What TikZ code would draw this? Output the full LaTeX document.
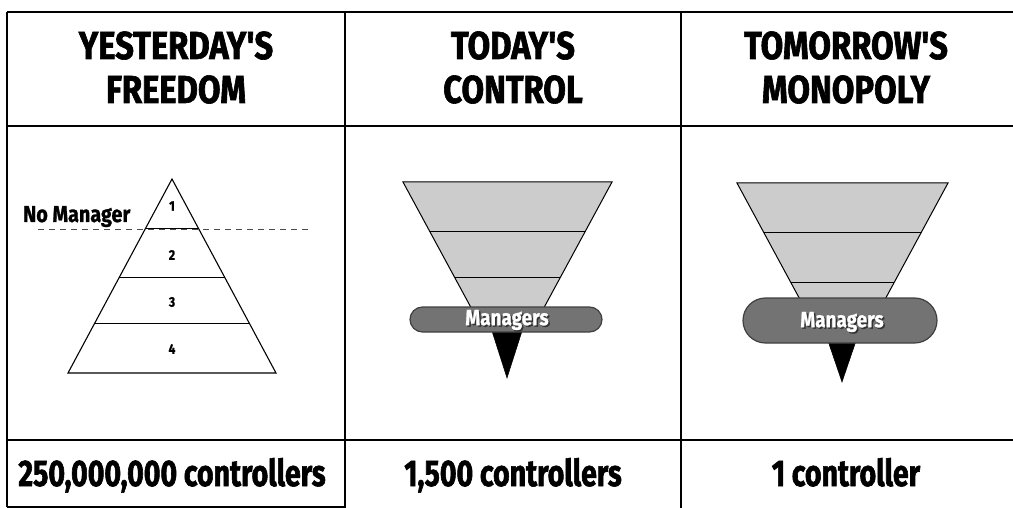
\documentclass[tikz,border=0pt]{standalone}
\usepackage{fontspec}
\setmainfont{Fira Sans}
\newfontfamily\headfont{Fira Sans}[FakeStretch=0.84,FakeBold=1.6]
\newfontfamily\botfont{Fira Sans}[FakeStretch=0.77,FakeBold=1.6]
\newfontfamily\smfont{Fira Sans}[FakeStretch=0.86,FakeBold=1.0]
\usetikzlibrary{calc}
\definecolor{funnelfill}{gray}{0.8}
\definecolor{pillfill}{gray}{0.45}
\definecolor{pilledge}{gray}{0.25}
\tikzset{
  frame/.style={line width=1.8pt, black},
  divider/.style={line width=1.1pt, black},
  headtext/.style={anchor=base, inner sep=0pt, font=\headfont\bfseries\fontsize{39}{44}\selectfont},
  bottext/.style={anchor=base, inner sep=0pt, font=\botfont\bfseries\fontsize{37}{40}\selectfont},
  tiernum/.style={inner sep=0pt, font=\smfont\bfseries\fontsize{14}{16}\selectfont},
  tierline/.style={line width=1pt, black},
  funnel/.style={fill=funnelfill, draw=black, line width=1pt},
  pill/.style={fill=pillfill, draw=pilledge, line width=1.2pt},
  tip/.style={fill=black, draw=black, line width=0.5pt},
  mgrtext/.style={inner sep=0pt, text=white, font=\smfont\bfseries\fontsize{22}{24}\selectfont},
  mgrshadow/.style={inner sep=0pt, text=black!80, font=\smfont\bfseries\fontsize{22}{24}\selectfont},
}
\begin{document}
\begin{tikzpicture}[x=1pt,y=-1pt]
\useasboundingbox (0,0) rectangle (1013,508);
% table frame
\coordinate (tl) at (7,12);
\coordinate (tr) at (1013,12);
\coordinate (hl) at (7,126);
\coordinate (hr) at (1013,126);
\coordinate (rl) at (7,440);
\coordinate (rr) at (1013,440);
\coordinate (bl) at (7,507);
\coordinate (bm) at (345,507);
\draw[frame] (tl) -- (tr);
\draw[frame] (hl) -- (hr);
\draw[frame] (rl) -- (rr);
\draw[frame] (tl) -- (bl);
\draw[frame] (bl) -- (bm);
\coordinate (d1t) at (345,12);
\coordinate (d1b) at (345,508);
\coordinate (d2t) at (681,12);
\coordinate (d2b) at (681,508);
\draw[divider] (d1t) -- (d1b);
\draw[divider] (d2t) -- (d2b);
% headers
\node[headtext] (h1a) at (176,59) {YESTERDAY'S};
\node[headtext] (h1b) at (176,103) {FREEDOM};
\node[headtext] (h2a) at (513,59) {TODAY'S};
\node[headtext] (h2b) at (513,103) {CONTROL};
\node[headtext] (h3a) at (846,59) {TOMORROW'S};
\node[headtext] (h3b) at (846,103) {MONOPOLY};
% bottom texts
\node[bottext] (b1) at (172,486) {250,000,000 controllers};
\node[bottext] (b2) at (513,486) {1,500 controllers};
\node[bottext] (b3) at (846,486) {1 controller};
% pyramid
\coordinate (pa) at (172,179);
\coordinate (pl) at (68,373);
\coordinate (pr) at (276,373);
\coordinate (dl) at (38,229);
\coordinate (dr) at (310,229);
\draw[gray!60!black, line width=0.8pt, dash pattern=on 6pt off 5pt] (dl) -- (dr);
\draw[line width=1.1pt, line join=miter] (pa) -- (pl) -- (pr) -- cycle;
\draw[tierline] ($(pa)!0.2526!(pl)$) -- ($(pa)!0.2526!(pr)$);
\draw[tierline] ($(pa)!0.5052!(pl)$) -- ($(pa)!0.5052!(pr)$);
\draw[tierline] ($(pa)!0.7474!(pl)$) -- ($(pa)!0.7474!(pr)$);
\node[tiernum] (n1) at (172,206) {1};
\node[tiernum] (n2) at (172,255) {2};
\node[tiernum] (n3) at (172,302) {3};
\node[tiernum] (n4) at (172,349) {4};
\node[anchor=base west, inner sep=0pt, font=\smfont\bfseries\fontsize{23}{25}\selectfont] (nm) at (23,222) {No Manager};
% funnel 2
\coordinate (f2a) at (507.5,375);
\coordinate (f2l) at (403,182);
\coordinate (f2r) at (612,182);
\draw[funnel] (f2l) -- (f2r) -- ($(f2r)!0.70!(f2a)$) -- ($(f2l)!0.70!(f2a)$) -- cycle;
\draw[tierline] ($(f2l)!0.2539!(f2a)$) -- ($(f2r)!0.2539!(f2a)$);
\draw[tierline] ($(f2l)!0.4974!(f2a)$) -- ($(f2r)!0.4974!(f2a)$);
\coordinate (t2l) at (491,328);
\coordinate (t2r) at (523,328);
\coordinate (t2b) at (507,378);
\draw[tip] (t2l) -- (t2r) -- (t2b) -- cycle;
\node[pill, rounded corners=12.5pt, minimum width=192pt, minimum height=25pt, inner sep=0pt] (p2) at (506,319.5) {};
\node[mgrshadow] (m2s) at (508.5,321.5) {Managers};
\node[mgrtext] (m2) at (507,320) {Managers};
% funnel 3
\coordinate (f3a) at (842.5,378);
\coordinate (f3l) at (737,183);
\coordinate (f3r) at (948,183);
\draw[funnel] (f3l) -- (f3r) -- ($(f3r)!0.70!(f3a)$) -- ($(f3l)!0.70!(f3a)$) -- cycle;
\draw[tierline] ($(f3l)!0.2513!(f3a)$) -- ($(f3r)!0.2513!(f3a)$);
\draw[tierline] ($(f3l)!0.5077!(f3a)$) -- ($(f3r)!0.5077!(f3a)$);
\coordinate (t3l) at (827,338);
\coordinate (t3r) at (857,338);
\coordinate (t3b) at (842,382);
\draw[tip] (t3l) -- (t3r) -- (t3b) -- cycle;
\node[pill, rounded corners=22.5pt, minimum width=194pt, minimum height=45pt, inner sep=0pt] (p3) at (840,320.5) {};
\node[mgrshadow] (m3s) at (843.5,323.5) {Managers};
\node[mgrtext] (m3) at (842,322) {Managers};
\end{tikzpicture}
\end{document}
